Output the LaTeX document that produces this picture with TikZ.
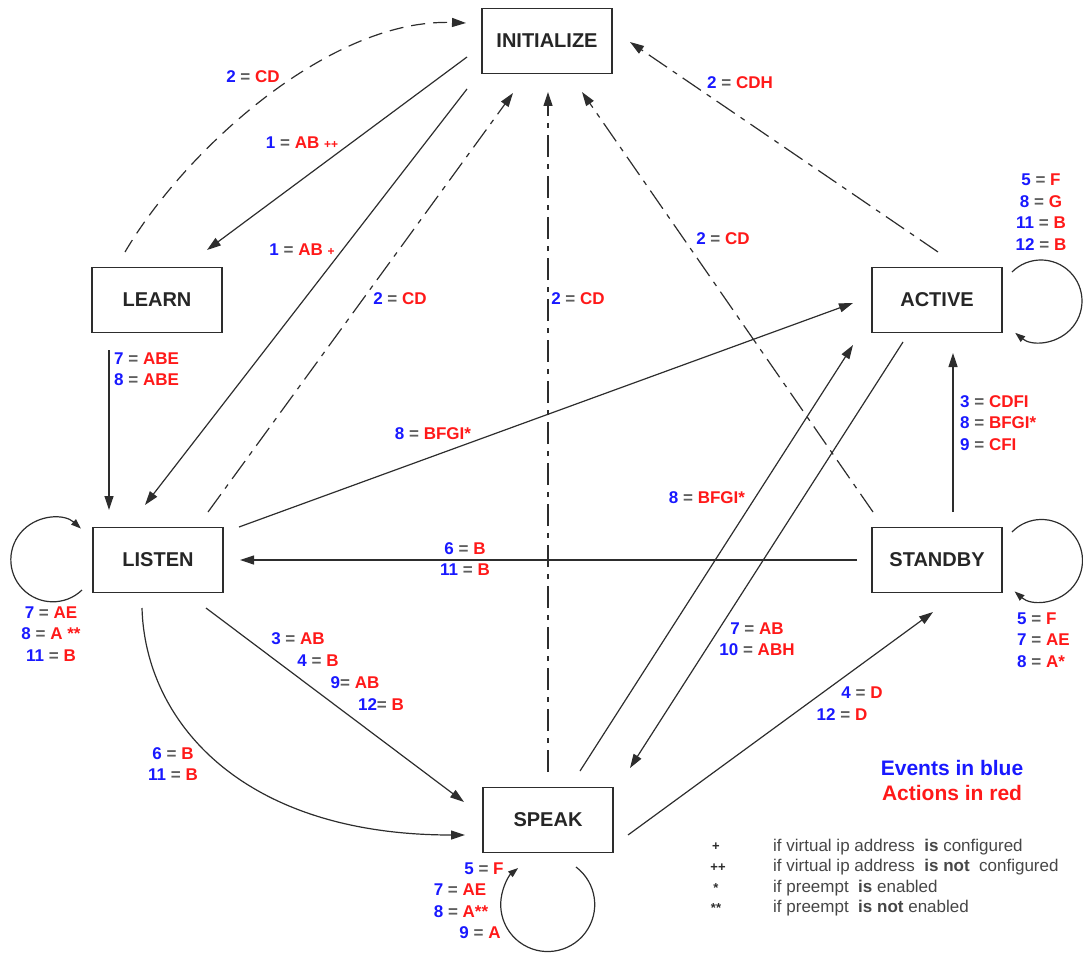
\documentclass[tikz,border=0pt]{standalone}
\usepackage{fontspec}
\setmainfont{Liberation Sans}
\usetikzlibrary{arrows.meta,calc}
\definecolor{evblue}{RGB}{25,25,255}
\definecolor{acred}{RGB}{255,25,25}
\definecolor{eqgray}{RGB}{95,95,95}
\definecolor{ln}{RGB}{45,45,45}
\definecolor{leggray}{RGB}{70,70,70}
\newcommand{\ev}[1]{\textcolor{evblue}{#1}}
\newcommand{\ac}[1]{\textcolor{acred}{#1}}
\newcommand{\eqs}{\textcolor{eqgray}{=}}
\newcommand{\lb}[2]{\ev{#1} \eqs{} \ac{#2}}
\newcommand{\sm}[1]{{\fontsize{12}{12}\selectfont #1}}
\begin{document}
\begin{tikzpicture}[x=1pt,y=-1pt,
  state/.style={draw=ln, line width=1.3pt, minimum width=130pt, minimum height=65pt, inner sep=0pt, font=\bfseries\fontsize{20}{24}\selectfont, text=black!85},
  lab/.style={font=\bfseries\fontsize{17}{21.5}\selectfont, inner sep=0pt, align=center},
  tr/.style={draw=ln, line width=1.2pt, -{Triangle[length=14pt,width=9pt]}},
  dd/.style={dash pattern=on 22pt off 7pt on 5pt off 7pt},
  lp/.style={draw=ln, line width=1.2pt, -{Triangle[length=10pt,width=7pt]}},
  leg/.style={font=\fontsize{17}{20}\selectfont, text=leggray, inner sep=0pt, anchor=west},
  sym/.style={font=\bfseries\fontsize{13}{15}\selectfont, text=ln, inner sep=0pt},
  big/.style={font=\bfseries\fontsize{21}{25}\selectfont, inner sep=0pt}
]
\useasboundingbox (0,0) rectangle (1083,952);
% states
\node[state] (init) at (547,41) {INITIALIZE};
\node[state] (learn) at (157,300) {LEARN};
\node[state] (active) at (937,300) {ACTIVE};
\node[state] (listen) at (158,560) {LISTEN};
\node[state] (standby) at (937,560) {STANDBY};
\node[state] (speak) at (548,820) {SPEAK};
% transitions
\draw[tr,dash pattern=on 14pt off 8pt] ($(learn)+(-32,-48)$) .. controls (185,150) and (330,18) .. ($(init)+(-81,-18)$);
\draw[tr] ($(init)+(-80,16)$) -- ($(learn)+(50,-50)$);
\draw[tr] ($(init)+(-80,48)$) -- ($(listen)+(-13,-55)$);
\draw[tr,dd] ($(listen)+(50,-48)$) -- ($(init)+(-34,52)$);
\draw[tr,dd] ($(speak)+(0,-48)$) -- ($(init)+(1,51)$);
\draw[tr,dd] ($(standby)+(-64,-48)$) -- ($(init)+(35,51)$);
\draw[tr,dd] ($(active)+(1,-48)$) -- ($(init)+(83,1)$);
\draw[tr] ($(learn)+(-48,50)$) -- ($(listen)+(-49,-50)$);
\draw[tr] ($(listen)+(81,-33)$) -- ($(active)+(-84,3)$);
\draw[tr] ($(standby)+(-80,0)$) -- ($(listen)+(82,0)$);
\draw[tr] ($(listen)+(48,48)$) -- ($(speak)+(-84,-18)$);
\draw[tr] ($(listen)+(-16,48)$) .. controls (145,720) and (240,835) .. ($(speak)+(-83,15)$);
\draw[tr] ($(speak)+(32,-49)$) -- ($(active)+(-84,45)$);
\draw[tr] ($(active)+(-34,42)$) -- ($(speak)+(82,-52)$);
\draw[tr] ($(speak)+(80,15)$) -- ($(standby)+(-4,52)$);
\draw[tr] ($(standby)+(16,-48)$) -- ($(active)+(16,53)$);
% self loops
\draw[lp] ($(listen)+(-76,30)$) arc[start angle=46, end angle=312, radius=42];
\draw[lp] ($(active)+(75,-28)$) arc[start angle=225, end angle=489, radius=41];
\draw[lp] ($(standby)+(75,-28)$) arc[start angle=224, end angle=491, radius=41];
\draw[lp] ($(speak)+(28,47)$) arc[start angle=307, end angle=591, radius=47];
% labels
\node[lab] (t1) at (253,77) {\lb{2}{CD}};
\node[lab] (t2) at (302,143) {\lb{1}{AB \sm{++}}};
\node[lab] (t3) at (302,250) {\lb{1}{AB \sm{+}}};
\node[lab] (t4) at (400,299) {\lb{2}{CD}};
\node[lab] (t5) at (578,299) {\lb{2}{CD}};
\node[lab] (t6) at (723,239) {\lb{2}{CD}};
\node[lab] (t7) at (740,83) {\lb{2}{CDH}};
\node[lab] (t8) at (1041,212) {\lb{5}{F}\\\lb{8}{G}\\\lb{11}{B}\\\lb{12}{B}};
\node[lab,anchor=west,align=left] (t9) at (114,369) {\lb{7}{ABE}\\\lb{8}{ABE}};
\node[lab] (t10) at (433,434) {\lb{8}{BFGI*}};
\node[lab] (t11) at (707,498) {\lb{8}{BFGI*}};
\node[lab,anchor=west,align=left] (t12) at (960,423) {\lb{3}{CDFI}\\\lb{8}{BFGI*}\\\lb{9}{CFI}};
\node[lab] (t13) at (465,559) {\lb{6}{B}\\\lb{11}{B}};
\node[lab] (t14) at (51,634) {\lb{7}{AE}\\\lb{8}{A **}\\\lb{11}{B}};
\node[lab] (t15) at (298,639) {\lb{3}{AB}};
\node[lab] (t16) at (318,661) {\lb{4}{B}};
\node[lab] (t17) at (355,683) {\ev{9}\eqs{} \ac{AB}};
\node[lab] (t18) at (381,705) {\ev{12}\eqs{} \ac{B}};
\node[lab] (t19) at (757,639) {\lb{7}{AB}\\\lb{10}{ABH}};
\node[lab,anchor=west,align=left] (t20) at (1017,640) {\lb{5}{F}\\\lb{7}{AE}\\\lb{8}{A*}};
\node[lab] (t21) at (173,764) {\lb{6}{B}\\\lb{11}{B}};
\node[lab] (t22) at (862,693) {\lb{4}{D}};
\node[lab] (t23) at (842,715) {\lb{12}{D}};
\node[lab] (t24) at (484,869) {\lb{5}{F}};
\node[lab] (t25) at (460,890) {\lb{7}{AE}};
\node[lab] (t26) at (461,912) {\lb{8}{A**}};
\node[lab] (t27) at (480,933) {\lb{9}{A}};
% legend
\node[big,text=evblue] (lgA) at (952,768) {Events in blue};
\node[big,text=acred] (lgB) at (952,793) {Actions in red};
\node[sym] (s1) at (716,847) {+};
\node[sym] (s2) at (718,868) {++};
\node[sym] (s3) at (716,888) {*};
\node[sym] (s4) at (716,908) {**};
\node[leg] (g1) at (773,847) {if virtual ip address\ \ \textbf{is} configured};
\node[leg] (g2) at (773,867) {if virtual ip address\ \ \textbf{is not}\ \ configured};
\node[leg] (g3) at (773,888) {if preempt\ \ \textbf{is} enabled};
\node[leg] (g4) at (773,908) {if preempt\ \ \textbf{is not} enabled};
\end{tikzpicture}
\end{document}
